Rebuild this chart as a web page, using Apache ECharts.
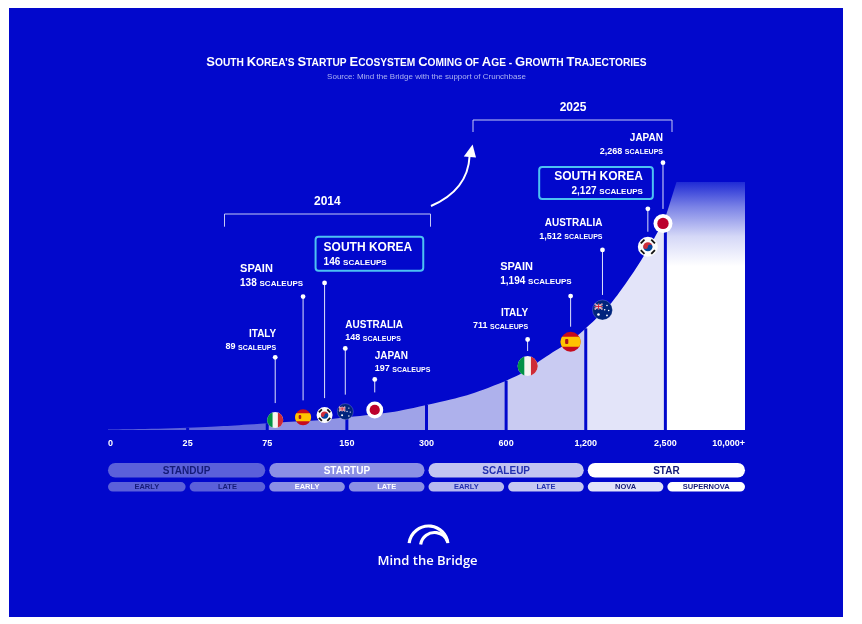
<!DOCTYPE html>
<html>
<head>
<meta charset="utf-8">
<title>South Korea's Startup Ecosystem Coming of Age</title>
<script src="https://cdn.jsdelivr.net/npm/echarts@6/dist/echarts.min.js"></script>
<style>
  html, body { margin: 0; padding: 0; background: #fff; }
  #chart { width: 862px; height: 624px; }
</style>
</head>
<body>
<div id="chart"></div>
<script>
// stage axis: one tick per threshold, evenly spaced
const tickLabels = ['0', '25', '75', '150', '300', '600', '1,200', '2,500', '10,000+'];
const stageNames = ['STANDUP', 'STARTUP', 'SCALEUP', 'STAR'];
const subStageNames = ['EARLY', 'LATE', 'EARLY', 'LATE', 'EARLY', 'LATE', 'NOVA', 'SUPERNOVA'];

// growth curve (x = position on stage axis, y = height)
const curveX = [0, 1, 2, 3, 4, 5, 5.5, 6, 6.5, 7];
const curveY = [0.2, 0.9, 2.7, 5.1, 10.1, 19.9, 29.5, 41, 59, 85.7];
// top of the star band
const topX = [7, 7.14, 8];
const topY = [85.7, 100, 100];

const countries = ['ITALY', 'SPAIN', 'SOUTH KOREA', 'AUSTRALIA', 'JAPAN'];
const scaleups2014 = [89, 138, 146, 148, 197];
const scaleups2025 = [711, 1194, 2127, 1512, 2268];
// where each flag sits on the curve
const flagX2014 = [2.10, 2.45, 2.72, 2.98, 3.35];
const flagY2014 = [4.0, 5.1, 6.0, 7.4, 8.1];
const flagX2025 = [5.27, 5.81, 6.78, 6.21, 6.97];
const flagY2025 = [25.8, 35.6, 73.9, 48.4, 83.3];
// height of the pin head above each flag
const pinY2014 = [29.3, 53.8, 59.3, 32.9, 20.4];
const pinY2025 = [36.5, 54.0, 89.2, 72.6, 107.8];

const BG = '#0208cc';
const FONT = "'Liberation Sans', Arial, Helvetica, sans-serif";

// label placement: [block align, line align, dx px, gap above pin px]
const labelLayout = [
  [['right', 'right', 1, 6], ['right', 'left', 0, 8.5], ['left', 'left', -9, 12.3], ['left', 'left', 0, 6], ['left', 'left', 0, 6]],
  [['right', 'right', 0.5, 9], ['right', 'left', 1, 10], ['right', 'right', 5, 9.7], ['right', 'right', 0, 9], ['right', 'right', 0, 7]]
];

const stageFill = ['#5b60da', '#8b8fe5', '#c2c4f1', '#ffffff'];
const stageInk = ['#141a78', '#ffffff', '#2330b0', '#141a78'];
const subFill = ['#5b60da', '#5b60da', '#8b8fe5', '#8b8fe5', '#b6b9ef', '#c6c8f2', '#e1e3f9', '#ffffff'];
const subInk = ['#141a78', '#141a78', '#ffffff', '#ffffff', '#2330b0', '#2330b0', '#141a78', '#141a78'];

const curveData = curveX.map((x, i) => [x, curveY[i]]);
const topData = topX.map((x, i) => [x, topY[i]]);
const dividerData = curveData.filter(d => Number.isInteger(d[0]) && d[0] > 0);

const countryData = [];
countries.forEach((c, i) => {
  countryData.push([flagX2014[i], flagY2014[i], pinY2014[i], scaleups2014[i], i, 0]);
  countryData.push([flagX2025[i], flagY2025[i], pinY2025[i], scaleups2025[i], i, 1]);
});

const stageData = stageNames.map((n, i) => [i * 2, i * 2 + 2, 0, i])
  .concat(subStageNames.map((n, i) => [i, i + 1, 1, i]));

function smallCaps(str) {
  let out = '', run = '', cls = null;
  for (const ch of str) {
    const c = /[A-Z]/.test(ch) ? 'a' : 'b';
    if (c !== cls && run) { out += '{' + cls + '|' + run + '}'; run = ''; }
    cls = c;
    run += ch.toUpperCase();
  }
  if (run) out += '{' + cls + '|' + run + '}';
  return out;
}

function flagShapes(ci, cx, cy, r) {
  const P = (d, fill) => ({ type: 'path', shape: { pathData: d }, style: { fill } });
  const C = (x, y, rr, fill) => ({ type: 'circle', shape: { cx: x, cy: y, r: rr }, style: { fill } });
  const L = (x1, y1, x2, y2, stroke, w) => ({ type: 'line', shape: { x1, y1, x2, y2 }, style: { stroke, lineWidth: w } });
  if (ci === 0) {
    const s = r / 3, d = Math.sqrt(r * r - s * s);
    return [C(cx, cy, r, '#f4f5f0'),
      P(`M${cx - s} ${cy - d}A${r} ${r} 0 0 0 ${cx - s} ${cy + d}Z`, '#009246'),
      P(`M${cx + s} ${cy - d}A${r} ${r} 0 0 1 ${cx + s} ${cy + d}Z`, '#ce2b37')];
  }
  if (ci === 1) {
    const h = r / 2, d = Math.sqrt(r * r - h * h);
    return [C(cx, cy, r, '#c60b1e'),
      P(`M${cx - d} ${cy - h}L${cx + d} ${cy - h}A${r} ${r} 0 0 1 ${cx + d} ${cy + h}L${cx - d} ${cy + h}A${r} ${r} 0 0 1 ${cx - d} ${cy - h}Z`, '#ffc400'),
      { type: 'rect', shape: { x: cx - r * 0.55, y: cy - r * 0.28, width: r * 0.32, height: r * 0.5, r: 1 }, style: { fill: '#ad1519' } }];
  }
  if (ci === 2) {
    const k = r * 0.46;
    const out = [C(cx, cy, r, '#fbfbfb'),
      P(`M${cx - k} ${cy}A${k} ${k} 0 0 1 ${cx + k} ${cy}Z`, '#cd2e3a'),
      P(`M${cx - k} ${cy}A${k} ${k} 0 0 0 ${cx + k} ${cy}Z`, '#0047a0'),
      C(cx - k / 2, cy, k / 2, '#cd2e3a'),
      C(cx + k / 2, cy, k / 2, '#0047a0')];
    [45, 135, 225, 315].forEach(deg => {
      const a = deg * Math.PI / 180, ux = Math.cos(a), uy = Math.sin(a);
      const mx = cx + 0.74 * r * ux, my = cy + 0.74 * r * uy, hl = 0.26 * r;
      out.push(L(mx - uy * hl, my + ux * hl, mx + uy * hl, my - ux * hl, '#111', 1.8));
    });
    return out;
  }
  if (ci === 3) {
    const x0 = cx - r * 0.78, y0 = cy - r * 0.62, w = r * 0.78, h = r * 0.56;
    return [
      { type: 'circle', shape: { cx, cy, r }, style: { fill: '#00247d', stroke: 'rgba(255,255,255,0.25)', lineWidth: 0.8 } },
      L(x0, y0, x0 + w, y0 + h, '#fff', 1.3), L(x0 + w, y0, x0, y0 + h, '#fff', 1.3),
      L(x0, y0, x0 + w, y0 + h, '#c8102e', 0.5), L(x0 + w, y0, x0, y0 + h, '#c8102e', 0.5),
      L(x0, y0 + h / 2, x0 + w, y0 + h / 2, '#fff', 1.6), L(x0 + w / 2, y0, x0 + w / 2, y0 + h, '#fff', 1.6),
      L(x0, y0 + h / 2, x0 + w, y0 + h / 2, '#c8102e', 0.9), L(x0 + w / 2, y0, x0 + w / 2, y0 + h, '#c8102e', 0.9),
      C(cx - r * 0.4, cy + r * 0.45, r * 0.13, '#fff'),
      C(cx + r * 0.45, cy - r * 0.45, r * 0.08, '#fff'), C(cx + r * 0.22, cy - r * 0.02, r * 0.08, '#fff'),
      C(cx + r * 0.62, cy + r * 0.05, r * 0.08, '#fff'), C(cx + r * 0.45, cy + r * 0.55, r * 0.09, '#fff')];
  }
  return [C(cx, cy, r, '#ffffff'), C(cx, cy, r * 0.6, '#bc002d')];
}

function renderCountry(params, api) {
  const fx = api.value(0), fy = api.value(1), py = api.value(2), n = api.value(3);
  const ci = api.value(4), yr = api.value(5);
  const f = api.coord([fx, fy]);
  const p = api.coord([fx, py]);
  const r = yr === 0 ? (ci === 4 ? 8.5 : 8) : (ci === 4 ? 9.5 : 10);
  const lay = labelLayout[yr][ci];
  const isBox = ci === 2;
  const sz = isBox ? [12, 10, 8] : ci === 1 ? [11, 10, 8] : [10, 9, 7];
  const lh = isBox ? [yr === 0 ? 15 : 14, 12] : ci === 1 ? [14, 12] : [13, 11];
  const tok = (fs, h, va) => ({ fontSize: fs, fontWeight: 'bold', fontFamily: FONT, fill: '#fff', lineHeight: h, align: lay[1], verticalAlign: va });
  const textStyle = {
    x: p[0] + lay[2],
    y: p[1] - lay[3],
    text: '{n|' + countries[ci] + '}\n{v|' + n.toLocaleString('en-US') + ' }{s|SCALEUPS}',
    rich: { n: tok(sz[0], lh[0], 'middle'), v: tok(sz[1], lh[1], 'bottom'), s: tok(sz[2], lh[1], 'bottom') },
    align: lay[0],
    verticalAlign: 'bottom',
    fill: '#fff'
  };
  if (isBox) {
    Object.assign(textStyle, {
      padding: yr === 0 ? [3.5, 11, 3.5, 8] : [3, 10, 3, 15],
      borderColor: '#4dc1f2', borderWidth: 2, borderRadius: 3
    });
  }
  const children = [
    { type: 'line', shape: { x1: p[0], y1: p[1], x2: p[0], y2: f[1] - r - (yr === 0 ? 9 : 5) }, style: { stroke: '#dfe2fb', lineWidth: 1 } },
    { type: 'circle', shape: { cx: p[0], cy: p[1], r: 2.4 }, style: { fill: '#fff' } },
    { type: 'text', style: textStyle }
  ].concat(flagShapes(ci, f[0], f[1], r));
  return { type: 'group', children };
}

function renderStage(params, api) {
  const s = api.value(0), e = api.value(1), row = api.value(2), k = api.value(3);
  const cs = params.coordSys;
  const x0 = api.coord([s, 0])[0] + (s === 0 ? 0 : 2);
  const x1 = api.coord([e, 0])[0] - (e === 8 ? 0 : 2);
  const top = row === 0;
  const y = top ? cs.y : cs.y + 19;
  const h = top ? 14.5 : 9.6;
  return {
    type: 'group',
    children: [
      { type: 'rect', shape: { x: x0, y, width: x1 - x0, height: h, r: h / 2 }, style: { fill: top ? stageFill[k] : subFill[k] } },
      { type: 'text', style: {
        x: (x0 + x1) / 2, y: y + h / 2 + 0.5,
        text: top ? stageNames[k] : subStageNames[k],
        fontSize: top ? 10 : 7.5, fontWeight: 'bold', fontFamily: FONT,
        fill: top ? stageInk[k] : subInk[k], align: 'center', verticalAlign: 'middle'
      } }
    ]
  };
}

const titleText = 'South Korea’s Startup Ecosystem Coming of Age - Growth Trajectories';

const chart = echarts.init(document.getElementById('chart'), null, { renderer: 'canvas' });
chart.setOption({
  backgroundColor: '#ffffff',
  animation: false,
  grid: [
    { left: 108, right: 117, top: 82.8, bottom: 194 },
    { left: 108, right: 117, top: 463, height: 29 }
  ],
  xAxis: [
    {
      type: 'value', min: 0, max: 8, interval: 1, gridIndex: 0,
      axisLine: { show: false }, axisTick: { show: false }, splitLine: { show: false },
      axisLabel: {
        color: '#ffffff', fontSize: 9, fontWeight: 'bold', fontFamily: FONT, margin: 9,
        alignMinLabel: 'left', alignMaxLabel: 'right',
        formatter: v => tickLabels[v]
      }
    },
    { type: 'value', min: 0, max: 8, gridIndex: 1, show: false }
  ],
  yAxis: [
    { type: 'value', min: 0, max: 140, gridIndex: 0, show: false },
    { type: 'value', min: 0, max: 1, gridIndex: 1, show: false }
  ],
  visualMap: {
    type: 'piecewise', show: false, dimension: 0, seriesIndex: 0,
    pieces: [
      { gte: 0, lt: 1, color: '#5d62da' },
      { gte: 1, lt: 2, color: '#6368dc' },
      { gte: 2, lt: 3, color: '#8f93e4' },
      { gte: 3, lt: 4, color: '#9fa3e8' },
      { gte: 4, lt: 5, color: '#aeb1ec' },
      { gte: 5, lt: 6, color: '#c9cbf2' },
      { gte: 6, lte: 7, color: '#e3e4f9' }
    ]
  },
  series: [
    {
      type: 'line', data: curveData, smooth: 0.5, showSymbol: false, symbol: 'none',
      lineStyle: { width: 0 }, areaStyle: { opacity: 1 }, z: 1, silent: true
    },
    {
      type: 'line', data: topData, showSymbol: false, symbol: 'none',
      lineStyle: { width: 0 }, z: 1, silent: true,
      areaStyle: {
        opacity: 1,
        color: {
          type: 'linear', x: 0, y: 0, x2: 0, y2: 1,
          colorStops: [
            { offset: 0, color: '#1f2bd5' },
            { offset: 0.1, color: '#7a82e6' },
            { offset: 0.22, color: '#d5d8f7' },
            { offset: 0.34, color: '#ffffff' },
            { offset: 1, color: '#ffffff' }
          ]
        }
      }
    },
    {
      type: 'bar', data: dividerData, barWidth: 3, itemStyle: { color: BG }, z: 2, silent: true
    },
    {
      type: 'custom', data: countryData, renderItem: renderCountry, z: 5, silent: true
    },
    {
      type: 'custom', xAxisIndex: 1, yAxisIndex: 1, data: stageData, renderItem: renderStage, z: 2, silent: true
    }
  ],
  graphic: [
    { type: 'rect', silent: true, shape: { x: 9, y: 8, width: 834, height: 609 }, style: { fill: BG } },
    {
      type: 'text', x: 426.5, y: 61,
      style: {
        text: smallCaps(titleText),
        rich: {
          a: { fontSize: 13, fontWeight: 'bold', fontFamily: FONT, fill: '#fff', lineHeight: 15, verticalAlign: 'bottom' },
          b: { fontSize: 10.2, fontWeight: 'bold', fontFamily: FONT, fill: '#fff', lineHeight: 15, verticalAlign: 'bottom' }
        },
        fill: '#fff', align: 'center', verticalAlign: 'middle'
      }
    },
    {
      type: 'text', x: 426.5, y: 76.7,
      style: { text: 'Source: Mind the Bridge with the support of Crunchbase', fontSize: 8, fontFamily: FONT, fill: '#aeb4f2', align: 'center', verticalAlign: 'middle' }
    },
    { type: 'polyline', shape: { points: [[224.5, 226.7], [224.5, 214], [430.5, 214], [430.5, 226.7]] }, style: { stroke: '#c5c9f5', lineWidth: 1, fill: 'none' } },
    { type: 'text', x: 327.3, y: 201.7, style: { text: '2014', fontSize: 12, fontWeight: 'bold', fontFamily: FONT, fill: '#fff', align: 'center', verticalAlign: 'middle' } },
    { type: 'polyline', shape: { points: [[473, 132], [473, 120], [672, 120], [672, 132]] }, style: { stroke: '#c5c9f5', lineWidth: 1, fill: 'none' } },
    { type: 'text', x: 573, y: 107.7, style: { text: '2025', fontSize: 12, fontWeight: 'bold', fontFamily: FONT, fill: '#fff', align: 'center', verticalAlign: 'middle' } },
    { type: 'bezierCurve', shape: { x1: 431, y1: 206, cpx1: 468, cpy1: 190, x2: 469.6, y2: 156 }, style: { stroke: '#fff', lineWidth: 2, fill: 'none' } },
    { type: 'polygon', shape: { points: [[472.6, 144.5], [463.8, 156.5], [476, 157.5]] }, style: { fill: '#fff' } },
    { type: 'arc', shape: { cx: 428.5, cy: 545.5, r: 19.5, startAngle: Math.PI + 0.12, endAngle: 2 * Math.PI - 0.12 }, style: { stroke: '#fff', lineWidth: 3.2, fill: 'none' } },
    { type: 'arc', shape: { cx: 434.5, cy: 546.5, r: 14, startAngle: Math.PI + 0.15, endAngle: 2 * Math.PI - 0.35 }, style: { stroke: '#fff', lineWidth: 3.2, fill: 'none' } },
    { type: 'text', x: 427.5, y: 561.5, style: { text: 'Mind the Bridge', fontSize: 13, fontWeight: 600, fontFamily: "'Open Sans', 'Noto Sans', sans-serif", fill: '#fff', align: 'center', verticalAlign: 'middle' } }
  ]
});
window.addEventListener('resize', () => chart.resize());
</script>
</body>
</html>
